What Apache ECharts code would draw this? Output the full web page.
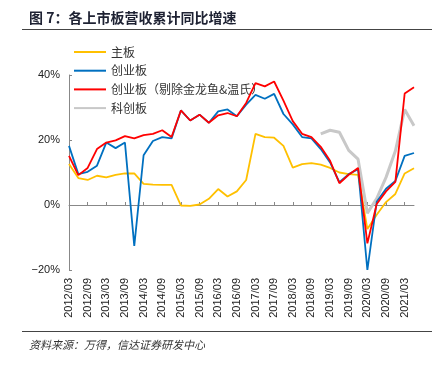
<!DOCTYPE html>
<html>
<head>
<meta charset="utf-8">
<script src="https://cdn.jsdelivr.net/npm/echarts@6/dist/echarts.min.js"></script>
<style>
html,body{margin:0;padding:0;background:#fff;}
#chart{width:444px;height:366px;}
</style>
</head>
<body>
<div id="chart"></div>
<script>
var categories = [
  '2012/03','2012/06','2012/09','2012/12',
  '2013/03','2013/06','2013/09','2013/12',
  '2014/03','2014/06','2014/09','2014/12',
  '2015/03','2015/06','2015/09','2015/12',
  '2016/03','2016/06','2016/09','2016/12',
  '2017/03','2017/06','2017/09','2017/12',
  '2018/03','2018/06','2018/09','2018/12',
  '2019/03','2019/06','2019/09','2019/12',
  '2020/03','2020/06','2020/09','2020/12',
  '2021/03','2021/06'
];
var mainBoard = [12.6,8.3,7.7,9.0,8.5,9.3,9.7,9.7,6.5,6.3,6.2,6.2,-0.15,-0.3,0.15,1.9,4.9,2.6,4.2,7.7,21.9,20.9,20.7,18.2,11.5,12.6,12.9,12.4,11.4,10.0,9.5,9.3,-7.4,-3.0,0.9,3.4,9.7,11.3];
var gem = [18.2,9.5,10.2,12.1,19.2,17.5,19.2,-12.6,15.3,19.7,20.9,20.5,29.1,26.0,27.8,25.3,28.8,29.4,27.3,30.9,33.9,32.7,34.2,28.0,24.8,20.9,20.5,17.2,13.1,7.0,9.5,11.0,-20.0,1.0,5.0,7.4,15.1,16.0];
var gemEx = [15.1,9.2,11.4,17.2,19.2,19.9,21.2,20.5,21.5,21.9,23.0,20.9,29.1,26.0,27.8,25.3,27.6,28.3,27.3,31.4,37.5,36.5,38.0,32.1,25.8,21.9,20.9,17.9,13.6,6.7,9.3,11.4,-11.8,0.3,4.2,7.1,34.3,36.2];
var star = [null,null,null,null,null,null,null,null,null,null,null,null,null,null,null,null,null,null,null,null,null,null,null,null,null,null,null,21.9,23.0,22.4,16.8,14.1,-2.5,2.0,8.5,16.6,29.4,24.4];
var seriesNames = ['主板','创业板','创业板（剔除金龙鱼&温氏）','科创板'];
var yTicks = [-20, 0, 20, 40];

var chart = echarts.init(document.getElementById('chart'), null, {renderer:'canvas'});
var cjk = '"Noto Sans CJK SC", sans-serif';
var lat = '"Liberation Sans", Arial, sans-serif';
var option = {
  animation: false,
  backgroundColor: '#ffffff',
  title: [
    {text: '图 7：各上市板营收累计同比增速', left: 24, top: 6,
     textStyle: {fontFamily: cjk, fontSize: 14, fontWeight: 'bold', color: '#1e2233'}},
    {text: '资料来源：万得，信达证券研发中心', left: 24, top: 334,
     textStyle: {fontFamily: cjk, fontSize: 11, fontWeight: 'normal', fontStyle: 'italic', color: '#333'}}
  ],
  graphic: [
    {type: 'line', shape: {x1: 22, y1: 29.5, x2: 432, y2: 29.5}, style: {stroke: '#444', lineWidth: 1.2}},
    {type: 'line', shape: {x1: 22, y1: 331.5, x2: 432, y2: 331.5}, style: {stroke: '#444', lineWidth: 1.2}}
  ],
  legend: {
    orient: 'vertical', left: 68, top: 40,
    itemWidth: 32, itemHeight: 14, itemGap: 4.7, itemTextGap: 4,
    data: seriesNames,
    itemStyle: {opacity: 0},
    textStyle: {fontFamily: cjk, fontSize: 12, color: '#333', lineHeight: 14}
  },
  grid: {left: 69, right: 30, top: 75, height: 195, containLabel: false},
  xAxis: [
    {type: 'category', data: categories, boundaryGap: false, position: 'bottom',
     axisLine: {show: false, onZero: false}, axisTick: {show: false},
     axisLabel: {interval: 1, rotate: 90, margin: 8, fontFamily: lat, fontSize: 11, color: '#222'}},
    {type: 'category', data: categories, boundaryGap: false, position: 'bottom',
     axisLine: {show: true, onZero: true, lineStyle: {color: '#888', width: 1}},
     axisTick: {show: true, inside: true, length: 3, interval: 1, lineStyle: {color: '#888'}},
     axisLabel: {show: false}}
  ],
  yAxis: {
    type: 'value', min: -20, max: 40, interval: 20,
    axisLine: {show: true, lineStyle: {color: '#888', width: 1}},
    axisTick: {show: true, inside: true, length: 3, lineStyle: {color: '#888'}},
    splitLine: {show: false},
    axisLabel: {margin: 9, fontFamily: lat, fontSize: 11, color: '#222',
      formatter: function(v){ return yTicks.indexOf(v) >= 0 ? (v < 0 ? '\u2212' + Math.abs(v) : v) + '%' : ''; }}
  },
  series: [
    {name: seriesNames[0], type: 'line', data: mainBoard, symbol: 'none', z: 3,
     lineStyle: {color: '#FFC000', width: 1.8}, itemStyle: {color: '#FFC000'}},
    {name: seriesNames[1], type: 'line', data: gem, symbol: 'none', z: 4,
     lineStyle: {color: '#0070C0', width: 1.8}, itemStyle: {color: '#0070C0'}},
    {name: seriesNames[2], type: 'line', data: gemEx, symbol: 'none', z: 5,
     lineStyle: {color: '#FF0000', width: 1.8}, itemStyle: {color: '#FF0000'}},
    {name: seriesNames[3], type: 'line', data: star, symbol: 'none', z: 2, connectNulls: false,
     lineStyle: {color: '#C8C8C8', width: 3}, itemStyle: {color: '#C8C8C8'}}
  ]
};
chart.setOption(option);
</script>
</body>
</html>
